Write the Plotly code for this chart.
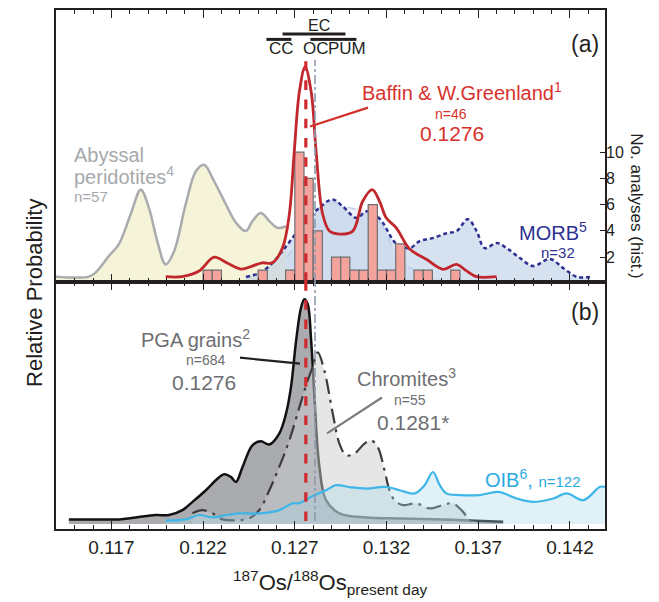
import plotly.graph_objects as go

# ------------------------------------------------------------------ data
# histogram of Baffin & W.Greenland analyses (bin starts, width 0.0005)
hist_bin_starts = [0.1220, 0.1225, 0.1250, 0.1265, 0.1270, 0.1275, 0.1280, 0.1290, 0.1295,
                   0.1300, 0.1305, 0.1310, 0.1315, 0.1320, 0.1325, 0.1335, 0.1340, 0.1355]
hist_counts = [1, 1, 1, 1, 10, 8, 4, 2, 2, 1, 1, 6, 1, 1, 3, 1, 1, 1]
bin_width = 0.0005

# panel (a) probability curves
baffin_x = [0.11996, 0.12085, 0.12178, 0.12260, 0.12331, 0.12406, 0.12468, 0.12522, 0.12577,
            0.12633, 0.12670, 0.12697, 0.12725, 0.12756, 0.12789, 0.12816, 0.12852, 0.12889,
            0.12943, 0.13016, 0.13070, 0.13122, 0.13162, 0.13198, 0.13253, 0.13326, 0.13417,
            0.13508, 0.13581, 0.13636, 0.13690, 0.13800]
baffin_y = [0.016, 0.016, 0.037, 0.088, 0.066, 0.044, 0.055, 0.067, 0.067, 0.122, 0.246, 0.478,
            0.699, 0.790, 0.699, 0.478, 0.246, 0.184, 0.173, 0.184, 0.294, 0.337, 0.294, 0.233,
            0.196, 0.118, 0.080, 0.043, 0.061, 0.037, 0.016, 0.016]

abyssal_x = [0.11391, 0.11577, 0.11614, 0.11686, 0.11741, 0.11805, 0.11860, 0.11905, 0.11950,
             0.11996, 0.12042, 0.12105, 0.12160, 0.12205, 0.12260, 0.12324, 0.12379, 0.12433,
             0.12469, 0.12515, 0.12561, 0.12606, 0.12652]
abyssal_y = [0.016, 0.016, 0.031, 0.092, 0.136, 0.246, 0.337, 0.269, 0.147, 0.061, 0.110, 0.283,
             0.404, 0.429, 0.368, 0.283, 0.215, 0.184, 0.221, 0.251, 0.221, 0.196, 0.202]

morb_x = [0.12433, 0.12506, 0.12561, 0.12632, 0.12725, 0.12834, 0.12905, 0.12960, 0.13037,
          0.13091, 0.13162, 0.13255, 0.13326, 0.13381, 0.13451, 0.13527, 0.13582, 0.13643,
          0.13691, 0.13735, 0.13801, 0.13861, 0.13927, 0.13998, 0.14091, 0.14162, 0.14238,
          0.14309]
morb_y = [0.015, 0.029, 0.055, 0.110, 0.191, 0.270, 0.301, 0.276, 0.232, 0.257, 0.230, 0.136,
          0.121, 0.147, 0.158, 0.176, 0.184, 0.228, 0.184, 0.121, 0.140, 0.118, 0.085, 0.055,
          0.081, 0.048, 0.015, 0.015]

pale_x = [0.12397, 0.12560, 0.12670, 0.12757, 0.12834, 0.12905, 0.12999, 0.13108, 0.13190,
          0.13233, 0.13273, 0.13326, 0.13408, 0.13490]
pale_y = [0.010, 0.030, 0.100, 0.190, 0.270, 0.290, 0.270, 0.250, 0.190, 0.120, 0.080, 0.050,
          0.020, 0.010]

# panel (b) probability curves
pga_x = [0.11468, 0.11632, 0.11741, 0.11832, 0.11942, 0.12014, 0.12087, 0.12142, 0.12215,
         0.12269, 0.12315, 0.12351, 0.12379, 0.12415, 0.12469, 0.12515, 0.12561, 0.12615,
         0.12652, 0.12679, 0.12707, 0.12734, 0.12752, 0.12770, 0.12789, 0.12807, 0.12834,
         0.12870, 0.12943, 0.13089, 0.13271, 0.13451, 0.13653, 0.13836]
pga_y = [0.019, 0.019, 0.019, 0.027, 0.037, 0.037, 0.057, 0.091, 0.139, 0.180, 0.205, 0.194,
         0.173, 0.235, 0.324, 0.340, 0.327, 0.372, 0.454, 0.563, 0.754, 0.891, 0.925, 0.905,
         0.754, 0.522, 0.235, 0.098, 0.044, 0.027, 0.023, 0.020, 0.014, 0.009]

chromite_x = [0.12142, 0.12196, 0.12251, 0.12305, 0.12397, 0.12451, 0.12506, 0.12561, 0.12615,
              0.12670, 0.12725, 0.12770, 0.12797, 0.12825, 0.12861, 0.12907, 0.12943, 0.12980,
              0.13025, 0.13080, 0.13116, 0.13152, 0.13189, 0.13216, 0.13244, 0.13289, 0.13362,
              0.13435, 0.13508, 0.13562, 0.13617, 0.13653, 0.13690]
chromite_y = [0.044, 0.057, 0.044, 0.019, 0.016, 0.023, 0.057, 0.139, 0.235, 0.344, 0.481,
              0.590, 0.645, 0.706, 0.631, 0.454, 0.331, 0.283, 0.290, 0.331, 0.344, 0.317,
              0.221, 0.139, 0.098, 0.078, 0.085, 0.064, 0.078, 0.085, 0.050, 0.016, 0.009]

oib_x = [0.11996, 0.12105, 0.12178, 0.12251, 0.12324, 0.12397, 0.12468, 0.12543, 0.12615,
         0.12688, 0.12725, 0.12797, 0.12870, 0.12925, 0.12998, 0.13089, 0.13198, 0.13271,
         0.13353, 0.13408, 0.13453, 0.13490, 0.13526, 0.13599, 0.13708, 0.13808, 0.13909,
         0.14000, 0.14109, 0.14182, 0.14273, 0.14364, 0.14391]
oib_y = [0.014, 0.019, 0.037, 0.027, 0.037, 0.044, 0.043, 0.046, 0.057, 0.085, 0.086, 0.115,
         0.139, 0.160, 0.152, 0.146, 0.153, 0.139, 0.126, 0.160, 0.214, 0.160, 0.126, 0.119,
         0.119, 0.132, 0.105, 0.091, 0.105, 0.126, 0.098, 0.153, 0.153]

# reference values (vertical lines)
baffin_mode = 0.1276
chromite_mode = 0.1281

# reservoir ranges drawn at the top of panel (a)
reservoir_names = ["EC", "CC", "OC", "PUM"]
reservoir_ranges = [(0.12633, 0.12976), (0.12545, 0.12681), (0.12785, 0.12873), (0.12867, 0.13036)]

x_tick_vals = [0.117, 0.122, 0.127, 0.132, 0.137, 0.142]
hist_tick_vals = [2, 4, 6, 8, 10]

# ------------------------------------------------------------------ figure
W, H = 659, 602
ML, MR, MT, MB = 56, 54, 8, 73
PW, PH = W - ML - MR, H - MT - MB
FONT = "Liberation Sans, Arial, sans-serif"
INK = "#231f20"


def P(px, py):
    """pixel position -> paper coordinates"""
    return (px - ML) / PW, (H - MB - py) / PH


split = (H - MB - 281) / PH  # panel boundary in paper coords

fig = go.Figure()

# panel (a) ----------------------------------------------------------
fig.add_trace(go.Scatter(x=pale_x, y=pale_y, mode="lines", line=dict(color="#c3d0e8", width=1.5, dash="dash", shape="spline"),
                         fill="tozeroy", fillcolor="#eef2f8", xaxis="x", yaxis="y", hoverinfo="skip"))
fig.add_trace(go.Scatter(x=abyssal_x, y=abyssal_y, mode="lines", line=dict(color="#a9abae", width=2.5, shape="spline"),
                         fill="tozeroy", fillcolor="#f5f3d8", xaxis="x", yaxis="y", hoverinfo="skip"))
fig.add_trace(go.Scatter(x=morb_x, y=morb_y, mode="lines", line=dict(color="#2e3192", width=2.5, dash="4px,3px", shape="spline"),
                         fill="tozeroy", fillcolor="rgba(182,202,230,0.55)", xaxis="x", yaxis="y", hoverinfo="skip"))
fig.add_trace(go.Bar(x=[s + bin_width / 2 for s in hist_bin_starts], y=hist_counts, width=bin_width,
                     marker=dict(color="#f4a39c", line=dict(color="#6d6e71", width=1.2)),
                     xaxis="x", yaxis="y3", hoverinfo="skip"))
fig.add_trace(go.Scatter(x=baffin_x, y=baffin_y, mode="lines", line=dict(color="#c1272d", width=2.8, shape="spline"),
                         xaxis="x", yaxis="y4", hoverinfo="skip"))

# panel (b) ----------------------------------------------------------
fig.add_trace(go.Scatter(x=pga_x, y=pga_y, mode="lines", line=dict(color="#111111", width=2.5, shape="spline"),
                         fill="tozeroy", fillcolor="rgba(128,131,137,0.68)", xaxis="x2", yaxis="y2", hoverinfo="skip"))
fig.add_trace(go.Scatter(x=chromite_x, y=chromite_y, mode="lines",
                         line=dict(color="#3c3c3c", width=2.2, dash="longdashdot", shape="spline"),
                         fill="tozeroy", fillcolor="rgba(205,205,207,0.5)", xaxis="x2", yaxis="y2", hoverinfo="skip"))
fig.add_trace(go.Scatter(x=oib_x, y=oib_y, mode="lines", line=dict(color="#3fb6e8", width=2.2, shape="spline"),
                         fill="tozeroy", fillcolor="rgba(170,214,236,0.35)", xaxis="x2", yaxis="y2", hoverinfo="skip"))

axis_common = dict(showgrid=False, zeroline=False, showline=True, linewidth=2, linecolor=INK)
xcommon = dict(range=[0.11398, 0.14391], tickvals=x_tick_vals, ticks="inside", ticklen=8, tickwidth=1.3,
               tickcolor=INK, mirror="ticks",
               minor=dict(dtick=0.001, tick0=0.117, ticks="inside", ticklen=4, tickwidth=1.1, tickcolor=INK),
               **axis_common)

fig.update_layout(
    width=W, height=H, margin=dict(l=ML, r=MR, t=MT, b=MB),
    paper_bgcolor="white", plot_bgcolor="rgba(0,0,0,0)", showlegend=False, barmode="overlay",
    font=dict(family=FONT, color=INK),
    xaxis=dict(domain=[0, 1], anchor="y", showticklabels=False, matches="x2", **xcommon),
    xaxis2=dict(domain=[0, 1], anchor="y2", tickformat=".3f", tickfont=dict(size=19, color=INK), **xcommon),
    yaxis=dict(domain=[split, 1], anchor="x", range=[-0.0037, 1.0], showticklabels=False, ticks="",
               mirror=True, **axis_common),
    yaxis2=dict(domain=[0, split], anchor="x2", range=[-0.0205, 0.9959], showticklabels=False, ticks="",
                mirror=True, **axis_common),
    yaxis3=dict(overlaying="y", side="right", anchor="x", range=[0.099, 20.84], tickvals=hist_tick_vals,
                ticks="inside", ticklen=5, tickwidth=1.3, tickcolor=INK, showline=False, showgrid=False,
                zeroline=False, tickfont=dict(size=16, color=INK)),
    yaxis4=dict(overlaying="y", anchor="x", range=[-0.0037, 1.0], visible=False),
)

shapes = []
# vertical reference lines
ya_top = P(0, 58)[1]
for (y0, y1) in [(split, ya_top), (P(0, 521)[1], split)]:
    shapes.append(dict(type="line", xref="x", yref="paper", x0=chromite_mode, x1=chromite_mode, y0=y0, y1=y1,
                       line=dict(color="#8d9bb0", width=1.6, dash="dashdot"), layer="above"))
    shapes.append(dict(type="line", xref="x", yref="paper", x0=baffin_mode, x1=baffin_mode, y0=y0, y1=y1,
                       line=dict(color="#cf2a2f", width=3.2, dash="dash"), layer="above"))

# reservoir range bars
bar_rows = {"EC": 32, "CC": 37.5, "OC": 37.5, "PUM": 37.5}
for name, (a, b) in zip(reservoir_names, reservoir_ranges):
    yy = P(0, bar_rows[name])[1]
    shapes.append(dict(type="line", xref="x", yref="paper", x0=a, x1=b, y0=yy, y1=yy,
                       line=dict(color=INK, width=3), layer="above"))


# leader lines
def seg(p0, p1, color, width):
    a = P(*p0)
    b = P(*p1)
    return dict(type="line", xref="paper", yref="paper", x0=a[0], y0=a[1], x1=b[0], y1=b[1],
                line=dict(color=color, width=width), layer="above")


shapes.append(seg((368, 106), (310, 125), "#d3302c", 2.2))
shapes.append(seg((240, 357), (300, 363), "#231f20", 2.2))
shapes.append(seg((382, 397), (327, 433), "#7d7d7d", 2.2))
fig.update_layout(shapes=shapes)

ann = []


def text(px, py, s, size, color=INK, xanchor="center", angle=0):
    x, y = P(px, py)
    ann.append(dict(x=x, y=y, xref="paper", yref="paper", text=s, showarrow=False, xanchor=xanchor,
                    yanchor="middle", textangle=angle, font=dict(size=size, color=color, family=FONT)))


text(319, 24, "EC", 16)
text(281, 47, "CC", 17)
text(316, 47, "OC", 17)
text(347, 47, "PUM", 17)
text(585, 42, "(a)", 23)
text(585, 311, "(b)", 23)

red_txt = "#d8312c"
text(462, 90, "Baffin &amp; W.Greenland<sup>1</sup>", 20, red_txt)
text(451, 112, "n=46", 14, red_txt)
text(452, 132, "0.1276", 21, red_txt)

grey_txt = "#a7a9ac"
text(72, 154, "Abyssal", 20, grey_txt, xanchor="left")
text(72, 174, "peridotites<sup>4</sup>", 20, grey_txt, xanchor="left")
text(72, 195, "n=57", 15, grey_txt, xanchor="left")

blue_txt = "#2e3192"
text(553, 230, "MORB<sup>5</sup>", 20, blue_txt)
text(558, 251, "n=32", 15, blue_txt)

dgrey = "#6d6e71"
text(195, 338, "PGA grains<sup>2</sup>", 20, dgrey)
text(206, 359, "n=684", 14, dgrey)
text(204, 382, "0.1276", 21, dgrey)

text(406, 377, "Chromites<sup>3</sup>", 20, dgrey)
text(410, 400, "n=55", 14, dgrey)
text(413, 422, "0.1281*", 21, dgrey)

text(533, 478, "OIB<sup>6</sup>, <span style='font-size:15px'>n=122</span>", 20, "#29abe2")

text(35, 292, "Relative Probability", 22, INK, angle=-90)
text(637, 205, "No. analyses (hist.)", 17, INK, angle=90)
text(330, 583, "<sup>187</sup>Os/<sup>188</sup>Os<sub>present day</sub>", 22, INK)

fig.update_layout(annotations=ann)
fig.write_html("out.html")
